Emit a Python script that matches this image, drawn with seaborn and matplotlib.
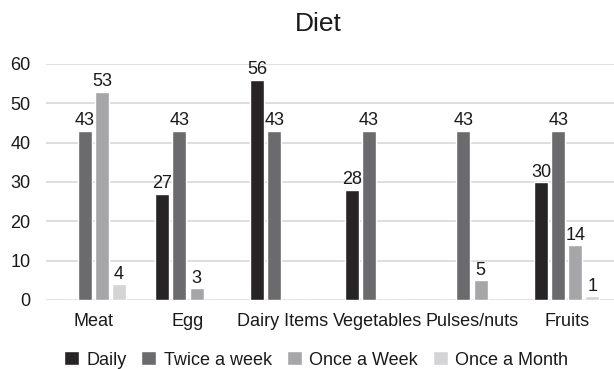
import matplotlib
matplotlib.use("Agg")
import matplotlib.pyplot as plt
import seaborn as sns
import pandas as pd

categories = ["Meat", "Egg", "Dairy Items", "Vegetables", "Pulses/nuts", "Fruits"]
series = ["Daily", "Twice a week", "Once a Week", "Once a Month"]
daily = [0, 27, 56, 28, 0, 30]
twice_a_week = [43, 43, 43, 43, 43, 43]
once_a_week = [53, 3, 0, 0, 5, 14]
once_a_month = [4, 0, 0, 0, 0, 1]
colors = ["#262425", "#6b6b6e", "#a6a6a8", "#d4d4d6"]

rows = []
for s, vals in zip(series, [daily, twice_a_week, once_a_week, once_a_month]):
    for c, v in zip(categories, vals):
        rows.append({"Category": c, "Series": s, "Value": v})
df = pd.DataFrame(rows)

sns.set_theme(style="white")
plt.rcParams["font.family"] = ["Liberation Sans", "DejaVu Sans"]

fig = plt.figure(figsize=(6.14, 3.69), dpi=100)
ax = fig.add_axes([46/614, 1-300/369, 568/614, 236/369])

sns.barplot(data=df, x="Category", y="Value", hue="Series", order=categories,
            hue_order=series, palette=colors, width=0.72, gap=0.18,
            saturation=1, ax=ax, legend=True)

for cont in ax.containers:
    labels = [f"{int(b.get_height())}" if b.get_height() > 0 else "" for b in cont]
    ax.bar_label(cont, labels=labels, padding=1, fontsize=13, color="#1a1a1a")

ax.set_ylim(0, 60)
ax.set_yticks(range(0, 61, 10))
ax.yaxis.grid(True, color="#d9d9d9", linewidth=1.2)
ax.set_axisbelow(True)
for sp in ax.spines.values():
    sp.set_visible(False)
ax.set_xlabel("")
ax.set_ylabel("")
ax.tick_params(axis="both", length=0, labelsize=13, colors="#1a1a1a")
ax.tick_params(axis="y", pad=11)
ax.tick_params(axis="x", pad=9)
ax.set_xlim(-0.5, 5.5)

fig.text(318/614, 1-24/369, "Diet", ha="center", va="center", fontsize=19, color="#1a1a1a")

handles, labels = ax.get_legend_handles_labels()
ax.legend_.remove()
fig.legend(handles, labels, loc="center", bbox_to_anchor=(316/614, 1-360/369), ncol=4,
           frameon=False, fontsize=13, handlelength=0.83, handleheight=0.83,
           handletextpad=0.4, columnspacing=0.83, labelcolor="#1a1a1a",
           borderaxespad=0, borderpad=0)

fig.savefig("out.png", dpi=100)
